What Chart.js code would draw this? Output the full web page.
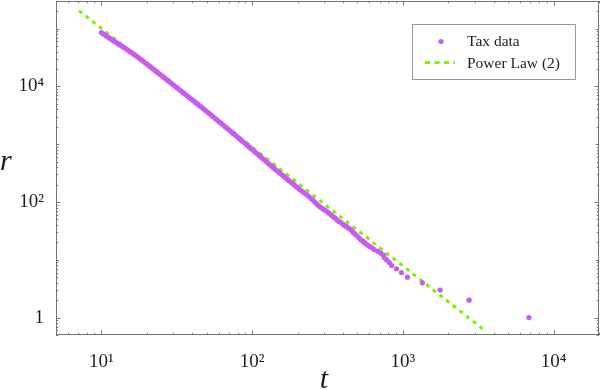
<!DOCTYPE html>
<html>
<head>
<meta charset="utf-8">
<script src="https://cdn.jsdelivr.net/npm/chart.js@4.4.0/dist/chart.umd.min.js"></script>
<style>
  body { margin: 0; background: #fff; }
  canvas { display: block; }
</style>
</head>
<body>
<canvas id="chart" width="600" height="390"></canvas>
<script>
// tax threshold t and rank r (dense band, then single ranks)
let taxValues = [
  10.00, 10.31, 10.63, 10.96, 11.30, 11.65, 12.01, 12.38, 12.76, 13.16,
  13.57, 13.99, 14.42, 14.87, 15.33, 15.80, 16.29, 16.80, 17.32, 17.85,
  18.40, 18.97, 19.56, 20.17, 20.79, 21.43, 22.10, 22.78, 23.49, 24.21,
  24.96, 25.74, 26.53, 27.35, 28.20, 29.08, 29.98, 30.91, 31.86, 32.85,
  33.87, 34.92, 36.00, 37.11, 38.26, 39.45, 40.67, 41.93, 43.23, 44.57,
  45.95, 47.37, 48.84, 50.35, 51.91, 53.52, 55.18, 56.89, 58.65, 60.47,
  62.34, 64.27, 66.26, 68.31, 70.43, 72.61, 74.86, 77.18, 79.57, 82.03,
  84.57, 87.19, 89.89, 92.68, 95.55, 98.49, 101.5, 104.7, 107.9, 111.3,
  114.7, 118.3, 121.9, 125.7, 129.6, 133.6, 137.8, 142.0, 146.4, 151.0,
  155.6, 160.5, 165.4, 170.5, 175.8, 181.3, 186.9, 192.7, 198.7, 204.8,
  211.2, 217.7, 224.4, 231.4, 238.5, 245.9, 253.6, 261.4, 269.5, 277.9,
  286.5, 295.3, 304.5, 313.9, 323.6, 333.7, 344.0, 354.6, 365.6, 376.9,
  388.6, 400.6, 413.0, 425.8, 439.0, 452.6, 466.6, 481.1, 496.0, 511.3,
  527.1, 543.4,
  554, 567, 583, 603, 626, 646, 681, 715, 745, 752,
  779, 812, 841, 907, 979, 1073, 1349, 1766, 2750, 6860
];
let rankValues = [
  85200, 80700, 76450, 72480, 68730, 65200, 61830, 58660, 55720, 52920,
  50280, 47770, 45330, 42920, 40630, 38460, 36410, 34410, 32450, 30600,
  28860, 27210, 25630, 24070, 22610, 21230, 19940, 18730, 17590, 16520,
  15510, 14570, 13690, 12850, 12070, 11340, 10650, 10000, 9390, 8820,
  8285, 7780, 7310, 6865, 6450, 6055, 5685, 5340, 5015, 4711,
  4415, 4136, 3873, 3628, 3400, 3184, 2982, 2793, 2614, 2446,
  2288, 2141, 2003, 1875, 1754, 1641, 1534, 1436, 1342, 1255,
  1174, 1098, 1026, 959, 896, 837, 782, 730, 682, 638,
  596, 556, 520, 486, 454, 424, 396, 370, 347, 325,
  304, 285, 267, 250, 234, 219, 205, 192, 180, 168,
  158, 149, 140, 132, 124, 115, 107, 99, 91, 85,
  80, 76, 72, 68, 64, 60, 56, 53, 49, 46,
  44, 41, 39, 37, 35, 33, 30, 28, 26, 24,
  22, 21,
  20, 19, 18, 17, 16, 15, 14, 13, 12, 11,
  10, 9, 8, 7, 6, 5, 4, 3, 2, 1
];
// end points of the fitted power law
let lawTax = [7.1, 3550];
let lawRank = [204000, 0.58];

let seriesNames = ['Tax data', 'Power Law (2)'];
let xTickValues = [10, 100, 1000, 10000];
let xTickLabels = ['10¹', '10²', '10³', '10⁴'];
let yTickValues = [1, 100, 10000];
let yTickLabels = ['1', '10²', '10⁴'];
let axisTitles = { x: 't', y: 'r' };

const purple = '#c85cf0';
const green = '#7ff000';
const frameColor = '#737373';
const textColor = '#1e1e1e';
const serif = "'Liberation Serif', 'Times New Roman', serif";

// frame with inward ticks on all four sides, like the original
const framePlugin = {
  id: 'frame',
  afterDatasetsDraw(chart) {
    const c = chart.ctx, a = chart.chartArea;
    const xs = chart.scales.x, ys = chart.scales.y;
    c.save();
    c.strokeStyle = frameColor;
    c.lineWidth = 1;
    c.strokeRect(a.left + 0.5, a.top + 0.5, a.right - a.left - 1, a.bottom - a.top - 1);

    const tickLen = (v, labelled) => {
      if (labelled.includes(v)) return 4.5;
      if (Math.abs(Math.log10(v) - Math.round(Math.log10(v))) < 1e-9) return 3.2;
      return 2.2;
    };
    c.beginPath();
    for (let k = -1; k <= 5; k++) {
      for (let m = 1; m <= 9; m++) {
        const v = +(m * Math.pow(10, k)).toPrecision(6);
        if (v >= xs.min && v <= xs.max) {
          const px = Math.round(xs.getPixelForValue(v)) + 0.5;
          const l = tickLen(v, xTickValues);
          c.moveTo(px, a.bottom); c.lineTo(px, a.bottom - l);
          c.moveTo(px, a.top); c.lineTo(px, a.top + l);
        }
        if (v >= ys.min && v <= ys.max) {
          const py = Math.round(ys.getPixelForValue(v)) + 0.5;
          const l = tickLen(v, yTickValues);
          c.moveTo(a.left, py); c.lineTo(a.left + l, py);
          c.moveTo(a.right, py); c.lineTo(a.right - l, py);
        }
      }
    }
    c.stroke();

    // axis titles, upright italic like the original
    c.fillStyle = textColor;
    c.font = "italic 30px " + serif;
    c.textBaseline = 'alphabetic';
    c.textAlign = 'left';
    c.fillText(axisTitles.y, 0, 170);
    c.textAlign = 'center';
    c.fillText(axisTitles.x, 324, 388);
    c.restore();
  }
};

// boxed legend inside the plot, top right
const legendPlugin = {
  id: 'boxLegend',
  afterDraw(chart) {
    const c = chart.ctx;
    const sets = chart.data.datasets;
    c.save();
    c.strokeStyle = '#9a9a9a';
    c.lineWidth = 1;
    c.strokeRect(412.5, 24.5, 163, 55);
    c.font = "15.5px " + serif;
    c.textBaseline = 'middle';
    c.textAlign = 'left';
    // marker for the points
    c.fillStyle = sets[0].backgroundColor;
    c.beginPath();
    c.arc(441, 41.5, 2.6, 0, Math.PI * 2);
    c.fill();
    c.fillStyle = textColor;
    c.fillText(sets[0].label, 467, 42);
    // dashed sample for the line
    c.strokeStyle = sets[1].borderColor;
    c.lineWidth = 3;
    c.setLineDash([5, 4.5]);
    c.beginPath();
    c.moveTo(425, 62.5);
    c.lineTo(455, 62.5);
    c.stroke();
    c.setLineDash([]);
    c.fillText(sets[1].label, 467, 63.5);
    c.restore();
  }
};

// drop the label overhang padding so the plot area keeps its full height
function noOverhang(s) {
  s.paddingTop = 0;
  s.paddingBottom = 0;
  s.paddingLeft = 0;
  s.paddingRight = 0;
}

let ctx = document.getElementById('chart').getContext('2d');

let chart = new Chart(ctx, {
  type: 'scatter',
  data: {
    datasets: [{
      label: seriesNames[0],
      data: taxValues.map((t, i) => ({ x: t, y: rankValues[i] })),
      backgroundColor: purple,
      borderWidth: 0,
      pointRadius: 2.6,
      order: 0
    }, {
      type: 'line',
      label: seriesNames[1],
      data: lawTax.map((t, i) => ({ x: t, y: lawRank[i] })),
      borderColor: green,
      borderWidth: 3,
      borderDash: [4, 4.5],
      pointRadius: 0,
      fill: false,
      order: 1
    }]
  },
  options: {
    responsive: false,
    animation: false,
    layout: { autoPadding: false, padding: { left: 0, right: 1, top: 1, bottom: 0 } },
    plugins: {
      legend: { display: false },
      tooltip: { enabled: false },
      title: { display: false }
    },
    scales: {
      x: {
        type: 'logarithmic',
        min: 5,
        max: 20000,
        grid: { display: false },
        border: { display: false },
        afterBuildTicks: (s) => { s.ticks = xTickValues.map(v => ({ value: v })); },
        afterFit: (s) => { s.height = 55; noOverhang(s); },
        ticks: {
          autoSkip: false,
          maxRotation: 0,
          padding: 8,
          color: textColor,
          font: { family: serif, size: 19 },
          callback: (v) => xTickLabels[xTickValues.indexOf(v)] || ''
        }
      },
      y: {
        type: 'logarithmic',
        min: 0.5,
        max: 300000,
        grid: { display: false },
        border: { display: false },
        afterBuildTicks: (s) => { s.ticks = yTickValues.map(v => ({ value: v })); },
        afterFit: (s) => { s.width = 56; noOverhang(s); },
        ticks: {
          autoSkip: false,
          padding: 4,
          color: textColor,
          font: { family: serif, size: 19 },
          callback: (v) => yTickLabels[yTickValues.indexOf(v)] || ''
        }
      }
    }
  },
  plugins: [framePlugin, legendPlugin]
});
</script>
</body>
</html>
